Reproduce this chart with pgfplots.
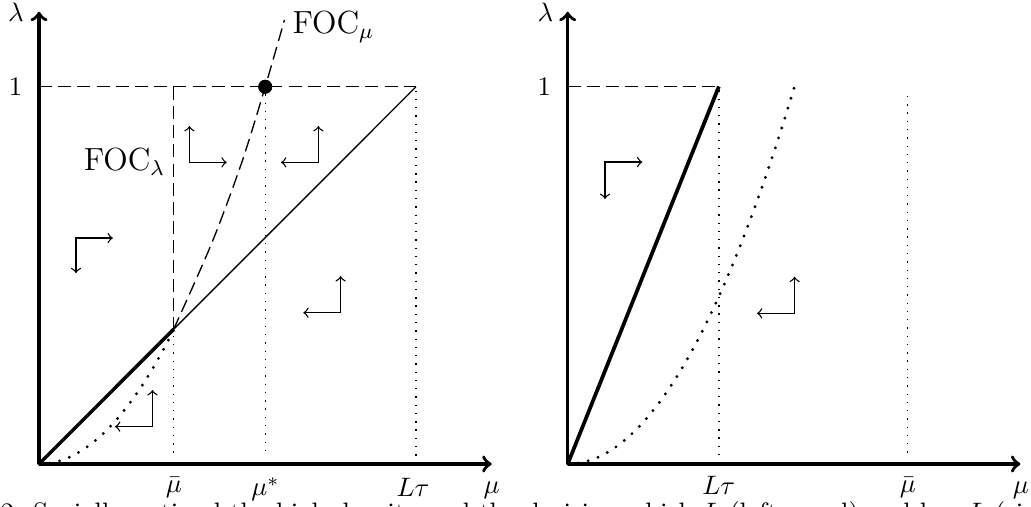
\documentclass[border=0pt]{standalone}
\usepackage{pgfplots}
\pgfplotsset{compat=1.18}
\tikzset{
  mydash/.style={line width=0.5pt, dash pattern=on 4.9pt off 2.3pt},
  finedot/.style={line width=0.5pt, dash pattern=on 0.5pt off 2.6pt},
  bigdot/.style={line width=1.2pt, line cap=round, dash pattern=on 0pt off 3.9pt},
  elbow/.style={line width=0.5pt, <->},
}
\pgfplotsset{
  panel/.style={
    scale only axis, anchor=south west, clip=false,
    width=169.76pt, height=169.6pt,
    axis lines=left,
    axis line style={line width=1.3pt, ->},
    xmin=0, ymin=0,
    major tick length=0pt,
    tick style={draw=none},
    xtick=\empty,
    yticklabel style={inner sep=0pt, anchor=east, xshift=-6.1pt},
    ytick={1}, yticklabels={$1$},
  }
}
\begin{document}
\begin{tikzpicture}

% ---------------- left panel ----------------
\begin{axis}[panel, at={(14.625pt,-174pt)},
  xmax=1.2008, ymax=1.199]
  \addplot[mydash] coordinates {(0,1) (1,1)};
  \addplot[mydash] coordinates {(0.357,1) (0.357,0.357)};
  \addplot[mydash, smooth] coordinates {(0.357,0.357) (0.458,0.585) (0.538,0.800) (0.600,1.0) (0.651,1.177)};
  \addplot[line width=0.5pt] coordinates {(0.357,0.357) (1,1)};
  \addplot[line width=1.3pt] coordinates {(0,0) (0.357,0.357)};
  \addplot[bigdot, smooth] coordinates {(0,0) (0.03,0.0025) (0.06,0.0100) (0.09,0.0226) (0.12,0.0401) (0.15,0.0627) (0.18,0.0902) (0.21,0.1228) (0.24,0.1604) (0.27,0.2030) (0.30,0.2507) (0.33,0.3033) (0.357,0.355)};
  \addplot[finedot] coordinates {(0.357,0.34) (0.357,0.02)};
  \addplot[finedot] coordinates {(0.6,0.98) (0.6,0.02)};
  \addplot[finedot] coordinates {(1,0.99) (1,0.02)};
  \addplot[only marks, mark=*, mark size=2.45pt] coordinates {(0.6,1)};
  \draw[elbow] (axis cs:0.196,0.599) -- (axis cs:0.098,0.599) -- (axis cs:0.098,0.506);
  \draw[elbow] (axis cs:0.399,0.896) -- (axis cs:0.399,0.7996) -- (axis cs:0.498,0.7996);
  \draw[elbow] (axis cs:0.741,0.896) -- (axis cs:0.741,0.7996) -- (axis cs:0.642,0.7996);
  \draw[elbow] (axis cs:0.800,0.498) -- (axis cs:0.800,0.401) -- (axis cs:0.701,0.401);
  \draw[elbow] (axis cs:0.301,0.196) -- (axis cs:0.301,0.099) -- (axis cs:0.2016,0.099);
\end{axis}

% ---------------- right panel ----------------
\begin{axis}[panel, at={(212.89pt,-174pt)},
  xmax=2.995, ymax=1.198]
  \addplot[mydash] coordinates {(0,1) (1,1)};
  \addplot[line width=1.4pt] coordinates {(0,0) (1,1)};
  \addplot[bigdot, smooth] coordinates {(0,0) (0.1,0.0044) (0.2,0.0178) (0.3,0.0399) (0.4,0.0710) (0.5,0.1110) (0.6,0.1598) (0.7,0.2175) (0.8,0.2840) (0.9,0.3595) (1.0,0.4438) (1.1,0.5370) (1.2,0.6391) (1.3,0.7500) (1.4,0.8698) (1.501,1.0)};
  \addplot[finedot] coordinates {(1,0.99) (1,0.02)};
  \addplot[finedot] coordinates {(2.25,0.975) (2.25,0.02)};
  \draw[elbow] (axis cs:0.494,0.7996) -- (axis cs:0.247,0.7996) -- (axis cs:0.247,0.702);
  \draw[elbow] (axis cs:1.501,0.496) -- (axis cs:1.501,0.399) -- (axis cs:1.252,0.399);
\end{axis}

% ---------------- labels ----------------
\begin{scope}[x=0.375pt,y=-0.375pt]
  \node[inner sep=0pt, anchor=base] at (15.8,21.5) {$\lambda$};
  \node[inner sep=0pt, anchor=base] at (545.5,21.5) {$\lambda$};
  \node[inner sep=0pt, anchor=north] at (174,477) {$\bar{\mu}$};
  \node[inner sep=0pt, anchor=north] at (265.5,477) {$\mu^*$};
  \node[inner sep=0pt, anchor=north] at (413,477.5) {$L\tau$};
  \node[inner sep=0pt, anchor=north] at (718.7,476) {$L\tau$};
  \node[inner sep=0pt, anchor=north] at (908,476.5) {$\bar{\mu}$};
  \node[inner sep=0pt, anchor=north] at (491.7,481) {$\mu$};
  \node[inner sep=0pt, anchor=north] at (1021,481) {$\mu$};
  \node[inner sep=0pt, anchor=base west, font=\large] at (292,33.3) {FOC$_\mu$};
  \node[inner sep=0pt, anchor=base east, font=\large] at (165.5,170.7) {FOC$_\lambda$};
  \node[inner sep=0pt, anchor=base west] at (0,522) {2: Socially optimal the high density and the decision which $L$ (left panel) and low $L$ (right panel).};
  \pgfresetboundingbox
  \useasboundingbox (0,0) rectangle (1031,507);
\end{scope}
\end{tikzpicture}
\end{document}
